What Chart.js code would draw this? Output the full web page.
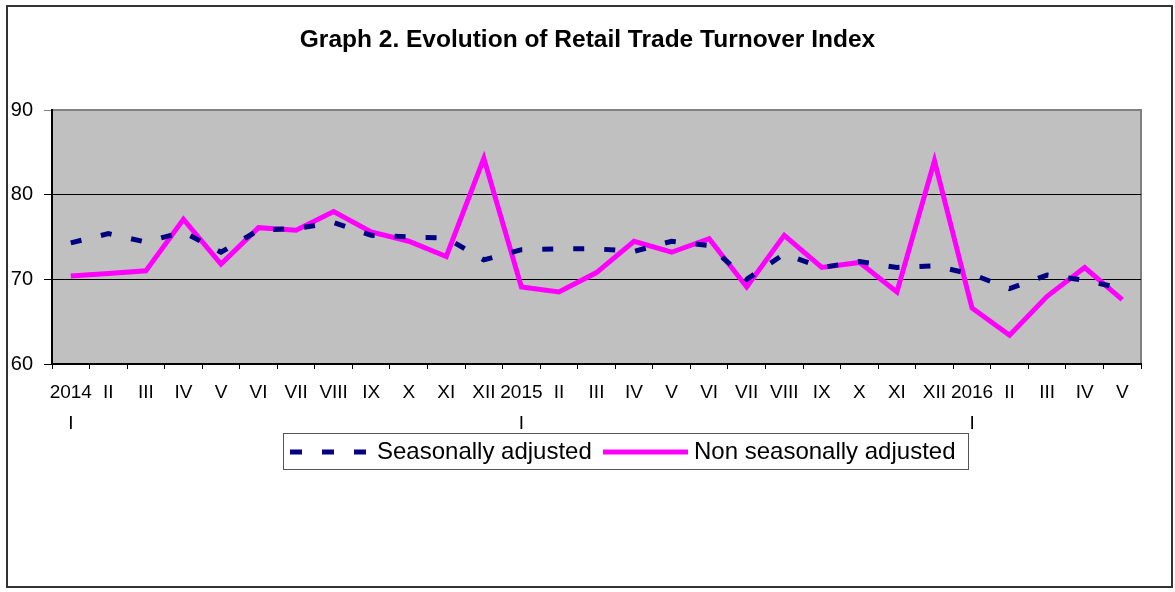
<!DOCTYPE html>
<html>
<head>
<meta charset="utf-8">
<script src="https://cdn.jsdelivr.net/npm/chart.js@4.4.1/dist/chart.umd.min.js"></script>
<style>
  body { margin: 0; background: #fff; }
  #wrap { width: 1175px; height: 592px; position: relative; }
</style>
</head>
<body>
<div id="wrap"><canvas id="retail-chart"></canvas></div>
<script>
const MONTHS = [
  ['2014', 'I'], 'II', 'III', 'IV', 'V', 'VI', 'VII', 'VIII', 'IX', 'X', 'XI', 'XII',
  ['2015', 'I'], 'II', 'III', 'IV', 'V', 'VI', 'VII', 'VIII', 'IX', 'X', 'XI', 'XII',
  ['2016', 'I'], 'II', 'III', 'IV', 'V'
];

const SEASONALLY_ADJUSTED = [
  74.3, 75.4, 74.4, 75.6, 73.2, 75.8, 76.0, 76.7, 75.2, 75.0, 74.9, 72.3,
  73.5, 73.6, 73.6, 73.3, 74.5, 74.0, 70.0, 73.0, 71.4, 72.1, 71.4, 71.6,
  70.6, 68.9, 70.5, 69.9, 68.9
];

const NON_SEASONALLY_ADJUSTED = [
  70.4, 70.7, 71.0, 77.1, 71.8, 76.1, 75.8, 78.0, 75.6, 74.5, 72.7, 84.3,
  69.1, 68.5, 70.8, 74.5, 73.2, 74.8, 69.1, 75.2, 71.4, 72.0, 68.5, 84.0,
  66.6, 63.4, 68.0, 71.4, 67.6
];

const Y_TICKS = [60, 70, 80, 90];

const FONT = 'Arial, "Liberation Sans", sans-serif';

// grey plot area, outer frame and the boxed legend
const framePlugin = {
  id: 'frame',
  beforeDraw(chart) {
    const ctx = chart.ctx;
    const a = chart.chartArea;
    ctx.save();
    ctx.fillStyle = '#fff';
    ctx.fillRect(0, 0, chart.width, chart.height);
    ctx.fillStyle = '#c0c0c0';
    ctx.fillRect(a.left, a.top, a.right - a.left, a.bottom - a.top);
    ctx.strokeStyle = '#808080';
    ctx.lineWidth = 2;
    ctx.beginPath();
    ctx.moveTo(a.left, a.top);
    ctx.lineTo(a.right, a.top);
    ctx.lineTo(a.right, a.bottom);
    ctx.stroke();
    ctx.restore();
  },
  afterDraw(chart) {
    const ctx = chart.ctx;
    ctx.save();
    ctx.strokeStyle = '#333';
    ctx.lineWidth = 2;
    ctx.strokeRect(7, 6, 1165, 581);

    // legend
    ctx.strokeStyle = '#555';
    ctx.lineWidth = 1;
    ctx.strokeRect(283.5, 433.5, 685, 36);
    const ds = chart.data.datasets;
    const y = 452;
    ctx.lineWidth = 5;
    ctx.strokeStyle = ds[0].borderColor;
    ctx.setLineDash([12, 20]);
    ctx.beginPath();
    ctx.moveTo(290, y);
    ctx.lineTo(366, y);
    ctx.stroke();
    ctx.setLineDash([]);
    ctx.strokeStyle = ds[1].borderColor;
    ctx.beginPath();
    ctx.moveTo(603, y);
    ctx.lineTo(688, y);
    ctx.stroke();
    ctx.fillStyle = '#000';
    ctx.font = '24px ' + FONT;
    ctx.textBaseline = 'middle';
    ctx.fillText(ds[0].label, 377, y);
    ctx.fillText(ds[1].label, 694, y);
    ctx.restore();
  }
};

new Chart(document.getElementById('retail-chart'), {
  type: 'line',
  data: {
    labels: MONTHS,
    datasets: [
      {
        label: 'Seasonally adjusted',
        data: SEASONALLY_ADJUSTED,
        borderColor: '#000080',
        borderWidth: 5,
        borderDash: [11, 20],
        pointRadius: 0,
        tension: 0,
        fill: false
      },
      {
        label: 'Non seasonally adjusted',
        data: NON_SEASONALLY_ADJUSTED,
        borderColor: '#ff00ff',
        borderWidth: 5,
        pointRadius: 0,
        tension: 0,
        fill: false
      }
    ]
  },
  options: {
    responsive: true,
    maintainAspectRatio: false,
    animation: false,
    layout: { padding: 0 },
    scales: {
      x: {
        offset: true,
        grid: {
          offset: true,
          drawOnChartArea: false,
          drawTicks: true,
          tickLength: 5,
          color: '#000'
        },
        border: { display: true, color: '#000', width: 2 },
        ticks: {
          color: '#000',
          maxRotation: 0,
          autoSkip: false,
          padding: 8,
          font: { family: FONT, size: 19, lineHeight: 1.65 }
        },
        afterFit(scale) { scale.height = 228; }
      },
      y: {
        min: Y_TICKS[0],
        max: Y_TICKS[Y_TICKS.length - 1],
        afterBuildTicks(scale) { scale.ticks = Y_TICKS.map(v => ({ value: v })); },
        grid: {
          color: ctx => (ctx.tick && ctx.tick.value === 90 ? '#808080' : '#000'),
          lineWidth: 1,
          drawTicks: true,
          tickLength: 8
        },
        border: { display: true, color: '#000', width: 2 },
        ticks: {
          color: '#000',
          padding: 11,
          font: { family: FONT, size: 20 }
        },
        afterFit(scale) { scale.width = 52; }
      },
      // empty right axis, only keeps the gap between plot and frame
      yRight: {
        position: 'right',
        min: Y_TICKS[0],
        max: Y_TICKS[Y_TICKS.length - 1],
        grid: { display: false },
        border: { display: false },
        ticks: { display: false },
        afterFit(scale) { scale.width = 34; }
      }
    },
    plugins: {
      legend: { display: false },
      tooltip: { enabled: false },
      title: {
        display: true,
        text: 'Graph 2. Evolution of Retail Trade Turnover Index',
        color: '#000',
        font: { family: FONT, size: 24.5, weight: 'bold', lineHeight: 1.2 },
        padding: { top: 26, bottom: 54.6 }
      }
    }
  },
  plugins: [framePlugin]
});
</script>
</body>
</html>
